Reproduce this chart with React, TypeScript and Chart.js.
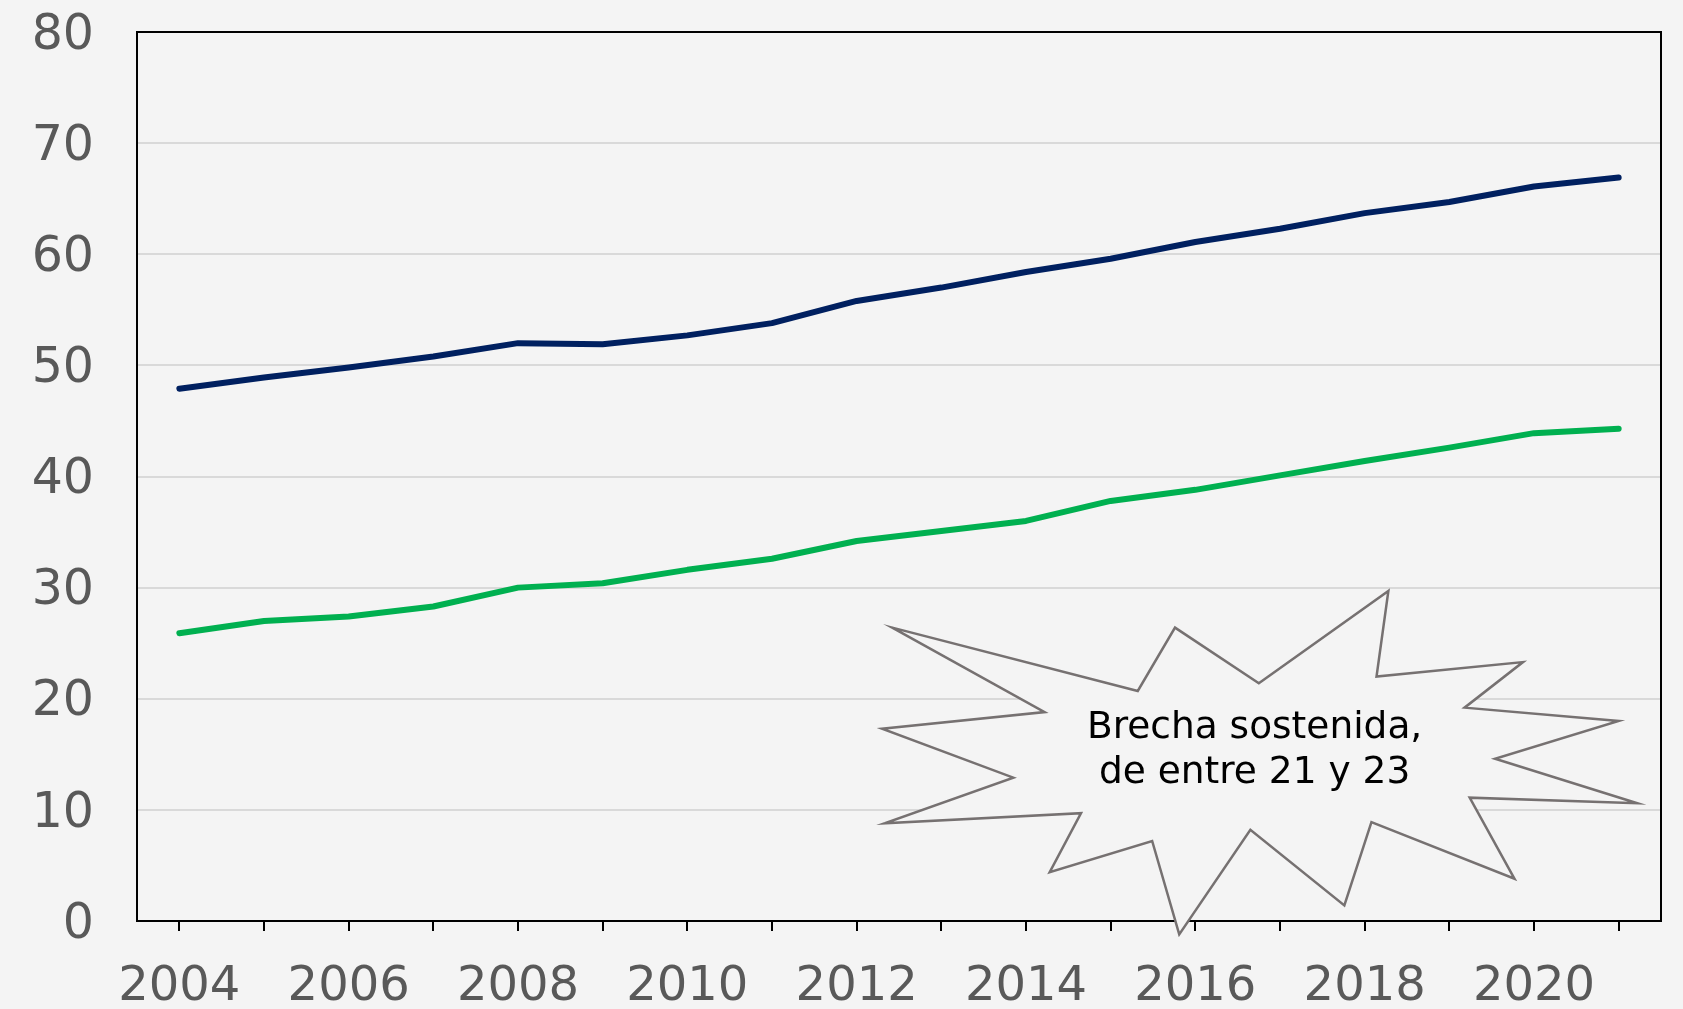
import React, { useEffect, useRef } from "react";
import { Chart, registerables } from "chart.js";

Chart.register(...registerables);

const years = [
  "2004", "2005", "2006", "2007", "2008", "2009", "2010", "2011", "2012",
  "2013", "2014", "2015", "2016", "2017", "2018", "2019", "2020", "2021",
];

const seriesNavy = [
  47.9, 48.9, 49.8, 50.8, 52.0, 51.9, 52.7, 53.8, 55.8,
  57.0, 58.4, 59.6, 61.1, 62.3, 63.7, 64.7, 66.1, 66.9,
];

const seriesGreen = [
  25.9, 27.0, 27.4, 28.3, 30.0, 30.4, 31.6, 32.6, 34.2,
  35.1, 36.0, 37.8, 38.8, 40.1, 41.4, 42.6, 43.9, 44.3,
];

const yMin = 0;
const yMax = 80;
const yStep = 10;

// Starburst callout outline in data units (category index, value)
const burstIdx = [
  8.42, 11.32, 11.76, 12.75, 14.28, 14.14, 15.87, 15.18, 17.0, 15.54, 17.22, 15.24,
  15.77, 14.08, 13.76, 12.65, 11.81, 11.49, 10.28, 10.65, 8.33, 9.85, 8.3, 10.22,
];
const burstVal = [
  26.4, 20.7, 26.4, 21.4, 29.7, 22.0, 23.3, 19.2, 18.0, 14.6, 10.6, 11.1,
  3.8, 8.9, 1.4, 8.2, -1.2, 7.2, 4.4, 9.7, 8.8, 12.9, 17.3, 18.8,
];
const calloutLines = ["Brecha sostenida,", "de entre 21 y 23"];
const calloutIdx = 12.7;
const calloutVals = [17.3, 13.3];

const BG = "#f4f4f4";
const FONT = "'DejaVu Sans', Verdana, sans-serif";

export default function App() {
  const ref = useRef<HTMLCanvasElement | null>(null);

  useEffect(() => {
    if (!ref.current) return;
    const framePlugin = {
      id: "frameAndCallout",
      afterDatasetsDraw(chart: any) {
        const ctx = chart.ctx;
        const { left, top, right, bottom } = chart.chartArea;
        const xs = chart.scales.x;
        const ys = chart.scales.y;
        ctx.save();
        // frame top & right
        ctx.strokeStyle = "#000";
        ctx.lineWidth = 2;
        ctx.beginPath();
        ctx.moveTo(left, top);
        ctx.lineTo(right, top);
        ctx.lineTo(right, bottom);
        ctx.stroke();
        // starburst
        ctx.beginPath();
        burstIdx.forEach((bx, i) => {
          const px = xs.getPixelForValue(bx);
          const py = ys.getPixelForValue(burstVal[i]);
          if (i === 0) ctx.moveTo(px, py);
          else ctx.lineTo(px, py);
        });
        ctx.closePath();
        ctx.fillStyle = BG;
        ctx.fill();
        ctx.strokeStyle = "#767171";
        ctx.lineWidth = 2.5;
        ctx.lineJoin = "miter";
        ctx.stroke();
        // text
        ctx.fillStyle = "#000";
        ctx.font = `37.5px ${FONT}`;
        ctx.textAlign = "center";
        ctx.textBaseline = "middle";
        calloutLines.forEach((t, i) => {
          ctx.fillText(t, xs.getPixelForValue(calloutIdx), ys.getPixelForValue(calloutVals[i]));
        });
        ctx.restore();
      },
    };

    const chart = new Chart(ref.current, {
      type: "line",
      data: {
        labels: years,
        datasets: [
          {
            data: seriesNavy,
            borderColor: "#002060",
            borderWidth: 6,
            pointRadius: 0,
            borderCapStyle: "round",
            borderJoinStyle: "round",
            tension: 0,
          },
          {
            data: seriesGreen,
            borderColor: "#00b050",
            borderWidth: 6,
            pointRadius: 0,
            borderCapStyle: "round",
            borderJoinStyle: "round",
            tension: 0,
          },
        ],
      },
      options: {
        responsive: false,
        animation: false,
        layout: { padding: { top: 32, right: 22, left: 0, bottom: 0 } },
        plugins: { legend: { display: false }, tooltip: { enabled: false } },
        scales: {
          x: {
            type: "category",
            offset: true,
            grid: {
              offset: false,
              drawOnChartArea: false,
              drawTicks: true,
              tickLength: 10,
              color: "#000",
              lineWidth: 2,
            },
            border: { display: true, color: "#000", width: 2 },
            ticks: {
              autoSkip: false,
              maxRotation: 0,
              padding: 28,
              color: "#595959",
              font: { family: FONT, size: 48 },
              callback: (_v: any, i: number) => (i % 2 === 0 ? years[i] : ""),
            },
            afterFit: (s: any) => {
              s.height = 88;
              s.paddingLeft = 0;
              s.paddingRight = 0;
            },
          },
          y: {
            min: yMin,
            max: yMax,
            ticks: {
              stepSize: yStep,
              padding: 43,
              labelOffset: 4,
              color: "#595959",
              font: { family: FONT, size: 49 },
            },
            grid: { color: "#d9d9d9", lineWidth: 2, drawTicks: false },
            border: { display: true, color: "#000", width: 2 },
            afterFit: (s: any) => {
              s.width = 137;
              s.paddingTop = 0;
              s.paddingBottom = 0;
            },
          },
        },
      },
      plugins: [framePlugin],
    });
    return () => chart.destroy();
  }, []);

  return (
    <div style={{ position: "fixed", left: 0, top: 0, width: 1683, height: 1009, background: BG }}>
      <canvas ref={ref} width={1683} height={1009} style={{ display: "block" }} />
    </div>
  );
}
